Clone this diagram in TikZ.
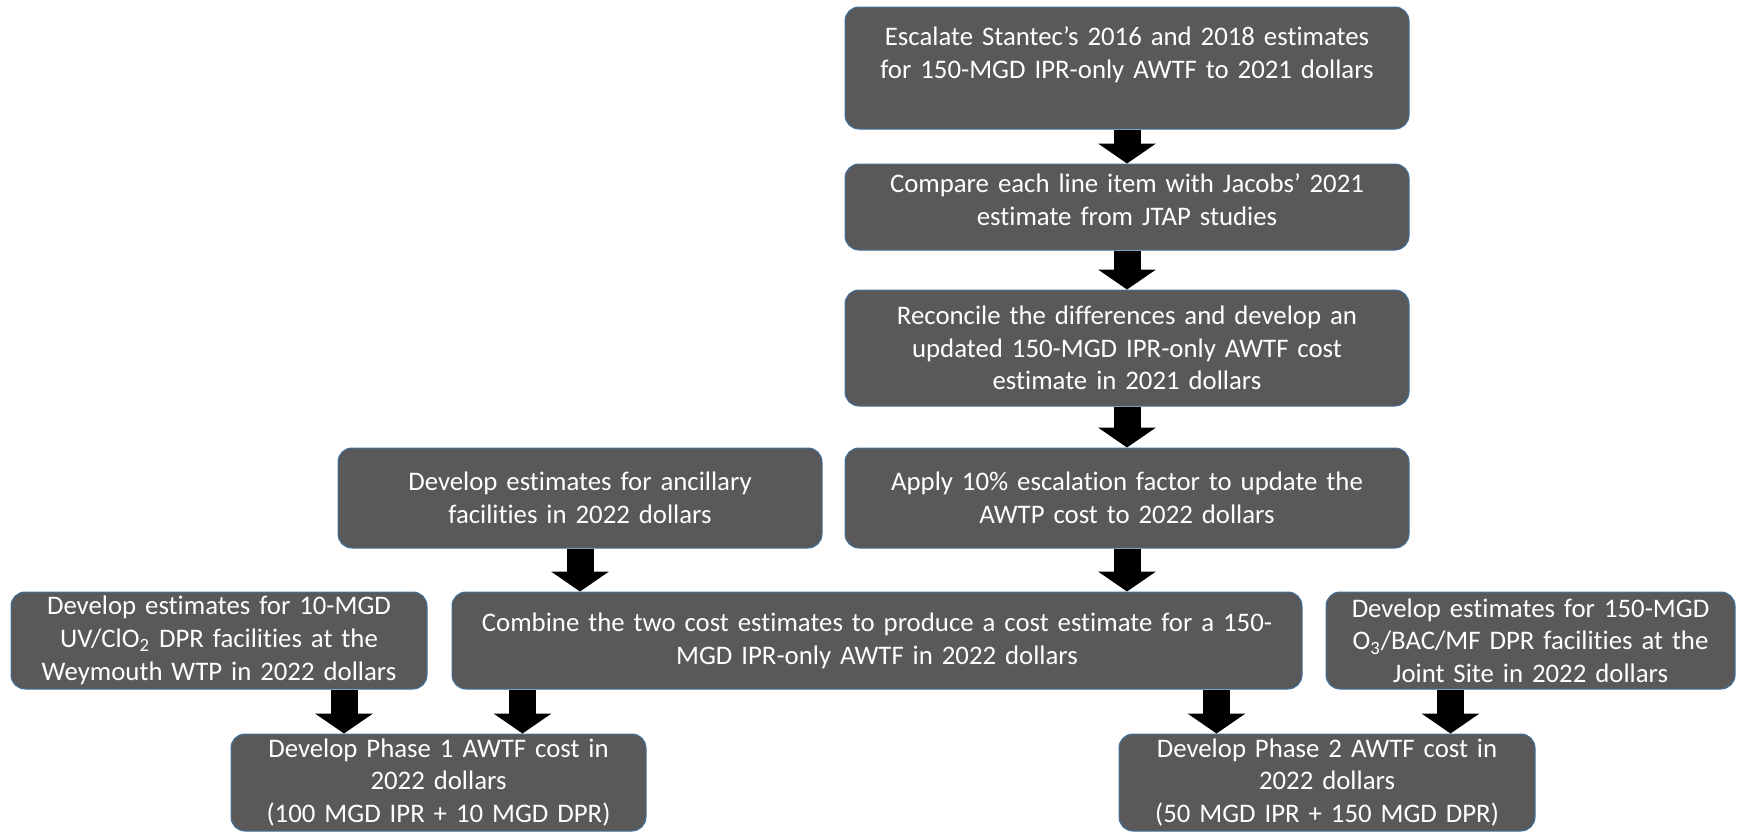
\documentclass[tikz,border=0pt]{standalone}
\usepackage{fontspec}
\setmainfont{Carlito}[Ligatures=NoCommon]
\usetikzlibrary{positioning, arrows.meta}

\definecolor{boxfill}{HTML}{595959}
\definecolor{boxline}{HTML}{41719C}

\begin{document}
\begin{tikzpicture}
[
    x=0.5pt, y=-0.5pt,
    % The boxes are placed at pixel coordinates of the original (y downwards)
    % Arrows always run from the bottom of one box to the top of the next
]

%=================================== Start ===================================
\tikzstyle{box} = [
    draw=boxline, line width=0.5pt, fill=boxfill, rounded corners=7pt,
    text=white, align=center, inner xsep=4pt, inner ysep=0pt,
    font=\fontsize{13.4}{16.35}\selectfont
]
% lift the text towards the top of the box
\tikzstyle{lift} = [text depth=#1]
\tikzstyle{arr} = [
    draw=black, line width=13.5pt,
    -{Triangle[width=29pt, length=10pt, line width=0pt]}
]

\useasboundingbox (0,0) rectangle (1738,835);

% Main column
\node[box, lift=31.5pt, minimum width=282pt, minimum height=61pt, text width=272pt]
      (box-esc) at (1127,68)
      {Escalate Stantec’s 2016 and 2018 estimates\\for 150-MGD IPR-only AWTF to 2021 dollars};
\node[box, lift=24pt, minimum width=282pt, minimum height=43pt, text width=272pt]
      (box-cmp) at (1127,207)
      {Compare each line item with Jacobs’ 2021\\estimate from JTAP studies};
\node[box, minimum width=282pt, minimum height=58pt, text width=272pt]
      (box-rec) at (1127,348)
      {Reconcile the differences and develop an\\updated 150-MGD IPR-only AWTF cost\\estimate in 2021 dollars};
\node[box, minimum width=282pt, minimum height=50pt, text width=272pt]
      (box-app) at (1127,498)
      {Apply 10\% escalation factor to update the\\AWTP cost to 2022 dollars};
\node[box, minimum width=242pt, minimum height=50pt, text width=232pt]
      (box-anc) at (580,498)
      {Develop estimates for ancillary\\facilities in 2022 dollars};

% Third row
\node[box, minimum width=425pt, minimum height=48.5pt, text width=415pt]
      (box-comb) at (877,640.5)
      {Combine the two cost estimates to produce a cost estimate for a 150-\\MGD IPR-only AWTF in 2022 dollars};
\node[box, minimum width=208pt, minimum height=48.5pt, text width=200pt]
      (box-uv) at (219,640.5)
      {Develop estimates for 10-MGD\\UV/ClO\textsubscript{2} DPR facilities at the\\Weymouth WTP in 2022 dollars};
\node[box, minimum width=204.5pt, minimum height=48.5pt, text width=196pt]
      (box-o3) at (1530.5,640.5)
      {Develop estimates for 150-MGD\\O\textsubscript{3}/BAC/MF DPR facilities at the\\Joint Site in 2022 dollars};

% Results
\node[box, minimum width=207.5pt, minimum height=48.5pt, text width=199pt]
      (box-ph1) at (438.5,782.5)
      {Develop Phase 1 AWTF cost in\\2022 dollars\\(100 MGD IPR + 10 MGD DPR)};
\node[box, minimum width=208pt, minimum height=48.5pt, text width=200pt]
      (box-ph2) at (1327,782.5)
      {Develop Phase 2 AWTF cost in\\2022 dollars\\(50 MGD IPR + 150 MGD DPR)};

% Straight arrows below the box centres
\foreach \a / \b in {esc/cmp, cmp/rec, rec/app, app/comb, anc/comb}
    \draw[arr] (box-\a.south) -- (box-\a.south |- box-\b.north);

% Shifted arrows into the results
\draw[arr] ([xshift=62.5pt]box-uv.south) -- ([xshift=62.5pt]box-uv.south |- box-ph1.north);
\draw[arr] ([xshift=35.5pt]box-comb.south west) -- ([xshift=35.5pt]box-comb.south west |- box-ph1.north);
\draw[arr] ([xshift=-43pt]box-comb.south east) -- ([xshift=-43pt]box-comb.south east |- box-ph2.north);
\draw[arr] ([xshift=-40pt]box-o3.south) -- ([xshift=-40pt]box-o3.south |- box-ph2.north);
%==================================== END ====================================

\end{tikzpicture}
\end{document}
